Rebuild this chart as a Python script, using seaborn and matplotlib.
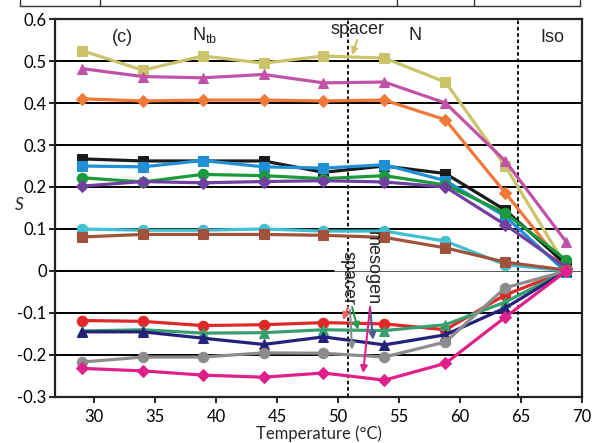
import matplotlib
matplotlib.use("Agg")
import matplotlib.pyplot as plt
import seaborn as sns
import pandas as pd
from matplotlib.lines import Line2D

temps = [29, 34, 38.9, 43.9, 48.8, 53.8, 58.8, 63.7, 68.7]

s_olive = [0.525, 0.478, 0.512, 0.495, 0.512, 0.507, 0.450, 0.250, 0.010]
s_magenta = [0.482, 0.463, 0.460, 0.468, 0.448, 0.450, 0.400, 0.262, 0.069]
s_orange = [0.410, 0.405, 0.407, 0.407, 0.405, 0.407, 0.360, 0.186, 0.005]
s_black = [0.267, 0.262, 0.262, 0.262, 0.235, 0.250, 0.232, 0.145, 0.015]
s_blue = [0.250, 0.248, 0.263, 0.248, 0.245, 0.253, 0.215, 0.130, -0.003]
s_green = [0.222, 0.212, 0.230, 0.227, 0.220, 0.227, 0.205, 0.138, 0.026]
s_purple = [0.202, 0.213, 0.210, 0.213, 0.215, 0.212, 0.200, 0.110, 0.008]
s_cyan = [0.100, 0.097, 0.097, 0.100, 0.095, 0.095, 0.071, 0.015, 0.000]
s_brown = [0.081, 0.087, 0.087, 0.087, 0.085, 0.080, 0.055, 0.021, 0.002]
s_red = [-0.118, -0.120, -0.130, -0.128, -0.123, -0.126, -0.140, -0.057, 0.000]
s_teal = [-0.143, -0.140, -0.148, -0.147, -0.140, -0.142, -0.128, -0.074, 0.000]
s_navy = [-0.145, -0.145, -0.160, -0.175, -0.157, -0.176, -0.152, -0.088, 0.000]
s_gray = [-0.217, -0.205, -0.205, -0.195, -0.196, -0.205, -0.169, -0.040, 0.000]
s_pink = [-0.232, -0.238, -0.248, -0.253, -0.243, -0.260, -0.220, -0.110, 0.000]

series = [
    (s_olive, "#c9c46a", "s"),
    (s_magenta, "#c052a8", "^"),
    (s_orange, "#f07838", "D"),
    (s_black, "#1a1a1a", "s"),
    (s_blue, "#1f8fd6", "s"),
    (s_green, "#1a9a3a", "o"),
    (s_purple, "#7040a0", "D"),
    (s_cyan, "#40c0d0", "o"),
    (s_brown, "#a0523d", "s"),
    (s_red, "#e02828", "o"),
    (s_teal, "#38a070", "^"),
    (s_navy, "#25207a", "^"),
    (s_gray, "#8c8c8c", "o"),
    (s_pink, "#e0208a", "D"),
]

transitions = [50.8, 64.75]

sns.set_style("white")
plt.rcParams['font.family'] = ['Lato', 'DejaVu Sans']

fig = plt.figure(figsize=(5.95, 4.43), dpi=100)
ax = fig.add_axes([0.0924, 0.104, 0.886, 0.853])

# horizontal grid
for yv in [0.1, 0.2, 0.3, 0.4, 0.5, -0.1, -0.2]:
    ax.axhline(yv, color="black", lw=1.4, zorder=1)
ax.axhline(0, xmin=0, xmax=0.53, color="black", lw=1.4, zorder=1)
ax.axhline(0, xmin=0.53, xmax=1, color="#555555", lw=0.7, zorder=1)

for xv in transitions:
    ax.axvline(xv, color="black", lw=1.3, ls=(0, (2, 1.5)), zorder=1)

for vals, col, mk in series:
    df = pd.DataFrame({"T": temps, "S": vals})
    ms = 6.5 if mk == "D" else 7.5
    sns.lineplot(data=df, x="T", y="S", ax=ax, color=col, marker=mk,
                 markersize=ms, markeredgecolor=col, lw=2.3, zorder=3)

ax.set_xlim(26.8, 70)
ax.set_ylim(-0.3, 0.6)
ax.set_xticks(range(30, 71, 5))
ax.set_yticks([-0.3, -0.2, -0.1, 0, 0.1, 0.2, 0.3, 0.4, 0.5, 0.6])
ax.set_yticklabels(["-0.3", "-0.2", "-0.1", "0", "0.1", "0.2", "0.3", "0.4", "0.5", "0.6"])
ax.tick_params(axis="both", direction="out", length=4, width=1.2, labelsize=12,
               pad=2, colors="black")
ax.tick_params(axis="x", bottom=True, pad=5)
ax.tick_params(axis="y", left=True)
for sp in ax.spines.values():
    sp.set_color("#222222")
    sp.set_linewidth(1.6)

ax.set_xlabel("Temperature (°C)", fontsize=12, labelpad=0)
ax.set_ylabel("")
ax.text(-0.068, 0.508, "S", transform=ax.transAxes, fontsize=12.5,
        style="italic", ha="center", va="center")

afont = dict(family=['Liberation Sans', 'DejaVu Sans'], fontsize=13, color="#222222")
ax.text(32.3, 0.557, "(c)", ha="center", va="center", **afont)
ax.text(39.1, 0.562, "N$_{\\mathregular{tb}}$", ha="center", va="center", **afont)
ax.text(51.6, 0.574, "spacer", ha="center", va="center", **afont)
ax.text(56.3, 0.562, "N", ha="center", va="center", **afont)
ax.text(67.6, 0.555, "Iso", ha="center", va="center", **afont)
ax.text(50.85, -0.082, "spacer", rotation=270, ha="center", va="bottom", **afont)
ax.text(52.8, -0.082, "mesogen", rotation=270, ha="center", va="bottom", **afont)

arrows = [
    ((51.56, 0.55), (51.15, 0.514), "#c9c46a"),
    ((50.82, -0.086), (50.41, -0.117), "#f06060"),
    ((51.15, -0.086), (51.64, -0.140), "#20a050"),
    ((50.98, -0.093), (51.15, -0.188), "#8c8c8c"),
    ((52.62, -0.086), (52.87, -0.164), "#4a5a90"),
    ((52.62, -0.086), (52.05, -0.243), "#e0208a"),
]
for start, end, col in arrows:
    ax.annotate("", xy=end, xytext=start,
                arrowprops=dict(arrowstyle="-|>", color=col, lw=1.5,
                                mutation_scale=10, shrinkA=0, shrinkB=0),
                zorder=4)

# cropped table border at the top of the figure
ytop = 1 - 6 / 443
fig.add_artist(Line2D([20 / 595, 580 / 595], [ytop, ytop], color="#333333", lw=1.0))
for px in [20, 100, 397, 474, 580]:
    fig.add_artist(Line2D([px / 595, px / 595], [ytop, 1.0], color="#333333", lw=1.0))

fig.savefig("out.png", dpi=100, facecolor="white")
